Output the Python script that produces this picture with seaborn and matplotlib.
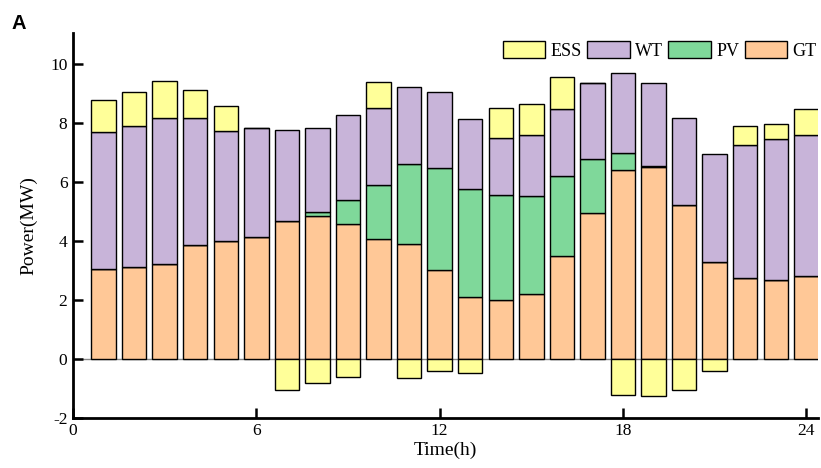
import numpy as np
import pandas as pd
import matplotlib
matplotlib.use("Agg")
import matplotlib.pyplot as plt
from matplotlib.patches import Patch
import seaborn as sns

hours = list(range(1, 25))
gt = [3.05, 3.12, 3.23, 3.86, 4.01, 4.13, 4.67, 4.86, 4.59, 4.07, 3.89, 3.01,
      2.09, 2.00, 2.22, 3.49, 4.95, 6.40, 6.51, 5.23, 3.28, 2.73, 2.67, 2.80]
pv = [0, 0, 0, 0, 0, 0, 0, 0.12, 0.79, 1.82, 2.74, 3.47,
      3.69, 3.56, 3.32, 2.73, 1.82, 0.60, 0.04, 0, 0, 0, 0, 0]
wt = [4.66, 4.79, 4.93, 4.33, 3.71, 3.69, 3.11, 2.86, 2.90, 2.62, 2.60, 2.58,
      2.36, 1.92, 2.06, 2.25, 2.60, 2.70, 2.82, 2.93, 3.66, 4.52, 4.79, 4.80]
ess = [1.09, 1.13, 1.26, 0.95, 0.87, 0, -1.05, -0.82, -0.62, 0.87, -0.65, -0.41,
       -0.46, 1.02, 1.05, 1.09, 0, -1.22, -1.25, -1.06, -0.41, 0.65, 0.52, 0.88]
series = ["ESS", "WT", "PV", "GT"]
colors = {"ESS": "#FFFF99", "WT": "#C8B4D9", "PV": "#7FD89A", "GT": "#FFC897"}

sns.set_style("ticks")
plt.rcParams["font.family"] = ["Liberation Serif", "DejaVu Serif"]
plt.rcParams["axes.unicode_minus"] = False
plt.rcParams["text.color"] = "black"
plt.rcParams["axes.labelcolor"] = "black"

df = pd.DataFrame({"hour": hours, "GT": gt, "PV": pv, "WT": wt, "ESS": ess})
gt_a = df["GT"].to_numpy()
pv_a = df["PV"].to_numpy()
wt_a = df["WT"].to_numpy()
ess_a = df["ESS"].to_numpy()
base_pv = gt_a
base_wt = gt_a + pv_a
top = gt_a + pv_a + wt_a
base_ess = np.where(ess_a >= 0, top, 0.0)

fig = plt.figure(figsize=(8.21, 4.68), dpi=100)
ax = fig.add_axes([0.0889, 0.107, 0.907, 0.822])

ax.axhline(0, color="#888888", lw=1.0, zorder=0.5)

bar_kw = dict(native_scale=True, width=0.8, errorbar=None, edgecolor="black",
              linewidth=1.0, ax=ax, zorder=2)
sns.barplot(data=df, x="hour", y="GT", color=colors["GT"], saturation=1, **bar_kw)
sns.barplot(data=df, x="hour", y="PV", bottom=base_pv, color=colors["PV"], saturation=1, **bar_kw)
sns.barplot(data=df, x="hour", y="WT", bottom=base_wt, color=colors["WT"], saturation=1, **bar_kw)
sns.barplot(data=df, x="hour", y="ESS", bottom=base_ess, color=colors["ESS"], saturation=1, **bar_kw)

ax.set_xlim(0, 24.37)
ax.set_ylim(-2, 11.05)
ax.set_xticks([0, 6, 12, 18, 24])
ax.set_yticks([-2, 0, 2, 4, 6, 8, 10])
ax.tick_params(direction="in", length=7, width=1.8, labelsize=12.5, pad=4, colors="black")
for s in ["top", "right"]:
    ax.spines[s].set_visible(False)
for s in ["left", "bottom"]:
    ax.spines[s].set_linewidth(2.0)
    ax.spines[s].set_color("black")

ax.set_xlabel("Time(h)", fontsize=14, color="black")
ax.set_ylabel("Power(MW)", fontsize=14, color="black")
ax.xaxis.set_label_coords(0.5, -0.063)
ax.yaxis.set_label_coords(-0.048, 0.5)

handles = [Patch(facecolor=colors[s], edgecolor="black", linewidth=1.0) for s in series]
ax.legend(handles, series, loc="upper right", bbox_to_anchor=(0.997, 0.916),
          bbox_transform=fig.transFigure, ncol=4, frameon=False, fontsize=13,
          handlelength=2.35, handleheight=1.1, handletextpad=0.3,
          columnspacing=0.3, borderpad=0.1, borderaxespad=0, labelcolor="black")

fig.text(0.014, 0.949, "A", fontsize=14.5, fontweight="bold", color="black",
         family=["Liberation Sans", "DejaVu Sans"], va="center", ha="left")

fig.savefig("out.png", dpi=100)
